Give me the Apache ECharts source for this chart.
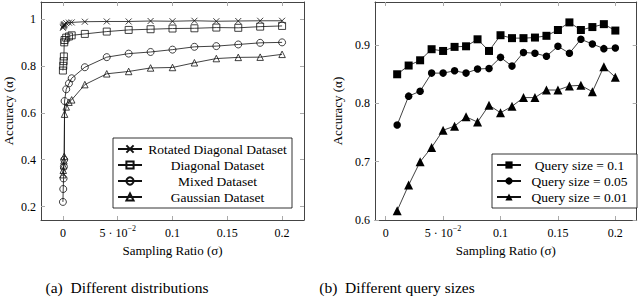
<!DOCTYPE html>
<html>
<head>
<meta charset="utf-8">
<script src="https://cdn.jsdelivr.net/npm/echarts@6/dist/echarts.min.js"></script>
<style>html,body{margin:0;padding:0;background:#fff}#c{width:640px;height:298px}</style>
</head>
<body>
<div id="c"></div>
<script>
// ---- Data: (a) Different distributions ----
const leftX = [0, 0.0003, 0.0006, 0.0009, 0.0012, 0.0015, 0.003, 0.0055, 0.008, 0.02, 0.04, 0.06, 0.08, 0.1, 0.12, 0.14, 0.16, 0.18, 0.2];
const rotatedDiag = [0.962, 0.966, 0.970, 0.973, 0.975, 0.978, 0.982, 0.984, 0.985, 0.988, 0.989, 0.989, 0.991, 0.990, 0.992, 0.990, 0.991, 0.992, 0.992];
const diagonal = [0.78, 0.80, 0.82, 0.84, 0.90, 0.91, 0.92, 0.925, 0.93, 0.936, 0.946, 0.953, 0.956, 0.959, 0.960, 0.963, 0.962, 0.967, 0.970];
const mixed = [0.22, 0.275, 0.32, 0.37, 0.40, 0.65, 0.70, 0.725, 0.747, 0.794, 0.837, 0.852, 0.859, 0.869, 0.881, 0.884, 0.891, 0.898, 0.900];
const gaussian = [0.336, 0.355, 0.374, 0.395, 0.414, 0.594, 0.625, 0.645, 0.655, 0.72, 0.766, 0.776, 0.791, 0.793, 0.813, 0.831, 0.836, 0.837, 0.849];
const leftNames = ['Rotated Diagonal Dataset', 'Diagonal Dataset', 'Mixed Dataset', 'Gaussian Dataset'];

// ---- Data: (b) Different query sizes ----
const rightX = [0.01, 0.02, 0.03, 0.04, 0.05, 0.06, 0.07, 0.08, 0.09, 0.10, 0.11, 0.12, 0.13, 0.14, 0.15, 0.16, 0.17, 0.18, 0.19, 0.20];
const query01 = [0.850, 0.865, 0.874, 0.893, 0.890, 0.897, 0.898, 0.910, 0.890, 0.917, 0.912, 0.912, 0.913, 0.916, 0.926, 0.939, 0.926, 0.931, 0.936, 0.925];
const query005 = [0.763, 0.8125, 0.821, 0.852, 0.852, 0.856, 0.852, 0.859, 0.860, 0.879, 0.864, 0.8875, 0.886, 0.881, 0.898, 0.886, 0.910, 0.902, 0.894, 0.895];
const query001 = [0.616, 0.660, 0.700, 0.7245, 0.754, 0.761, 0.777, 0.768, 0.797, 0.784, 0.795, 0.810, 0.810, 0.823, 0.823, 0.830, 0.831, 0.820, 0.863, 0.845];
const rightNames = ['Query size = 0.1', 'Query size = 0.05', 'Query size = 0.01'];

// ---- Tick labels ----
const xTicks = [0, 0.05, 0.1, 0.15, 0.2];
const leftYTicks = [0.2, 0.4, 0.6, 0.8, 1];
const rightYTicks = [0.6, 0.7, 0.8, 0.9];
const xTitle = 'Sampling Ratio (σ)';
const yTitle = 'Accuracy (α)';
const captions = ['(a)  Different distributions', '(b)  Different query sizes'];

const FONT = 'Liberation Serif';
const TICKC = '#aaa';
const FRAMEC = '#444';

function zip(xs, ys) { return xs.map((x, i) => [x, ys[i]]); }

function xLabelFmt(v) {
  if (Math.abs(v - 0.05) < 1e-9) return '{b|5 · 10}{s|−2}';
  return '{b|' + String(v) + '}';
}
const xRich = {
  b: { fontFamily: FONT, fontSize: 12, color: '#000', lineHeight: 15, verticalAlign: 'bottom' },
  s: { fontFamily: FONT, fontSize: 8, color: '#000', lineHeight: 9, verticalAlign: 'top' }
};

function makeAxes(gi, xmin, xmax, ymin, ymax, yTicks, nameGapY) {
  const xs = [
    { type: 'value', gridIndex: gi, position: 'bottom', min: xmin, max: xmax,
      axisLine: { onZero: false, lineStyle: { color: FRAMEC, width: 1 } },
      axisTick: { inside: true, length: 4, customValues: xTicks, lineStyle: { color: TICKC } },
      axisLabel: { customValues: xTicks, margin: 4, formatter: xLabelFmt, rich: xRich },
      splitLine: { show: false },
      name: xTitle, nameLocation: 'middle', nameGap: 21,
      nameTextStyle: { fontFamily: FONT, fontSize: 13, color: '#000' } },
    { type: 'value', gridIndex: gi, position: 'top', min: xmin, max: xmax,
      axisLine: { onZero: false, lineStyle: { color: FRAMEC, width: 1 } },
      axisTick: { inside: true, length: 4, customValues: xTicks, lineStyle: { color: TICKC } },
      axisLabel: { show: false }, splitLine: { show: false } }
  ];
  const ys = [
    { type: 'value', gridIndex: gi, position: 'left', min: ymin, max: ymax,
      axisLine: { show: true, onZero: false, lineStyle: { color: FRAMEC, width: 1 } },
      axisTick: { show: true, inside: true, length: 4, customValues: yTicks, lineStyle: { color: TICKC } },
      axisLabel: { customValues: yTicks, margin: 5, fontFamily: FONT, fontSize: 12, color: '#000',
        formatter: v => String(v) },
      splitLine: { show: false },
      name: yTitle, nameLocation: 'middle', nameGap: nameGapY,
      nameTextStyle: { fontFamily: FONT, fontSize: 13, color: '#000' } },
    { type: 'value', gridIndex: gi, position: 'right', min: ymin, max: ymax,
      axisLine: { show: true, onZero: false, lineStyle: { color: FRAMEC, width: 1 } },
      axisTick: { show: true, inside: true, length: 4, customValues: yTicks, lineStyle: { color: TICKC } },
      axisLabel: { show: false }, splitLine: { show: false } }
  ];
  return { xs, ys };
}

const A = makeAxes(0, -0.02, 0.22, 0.143, 1.072, leftYTicks, 26);
const B = makeAxes(1, -0.0093, 0.2186, 0.6, 0.974, rightYTicks, 31);

const CROSS = 'path://M0,0L10,10M10,0L0,10';
const LINEC = '#111';

function openSeries(name, data, symbol, size) {
  return {
    type: 'line', name, data, xAxisIndex: 0, yAxisIndex: 0,
    symbol, symbolSize: size, showSymbol: true,
    lineStyle: { color: LINEC, width: 0.8 },
    itemStyle: { color: 'rgba(0,0,0,0)', borderColor: '#111', borderWidth: 0.8 },
    emphasis: { disabled: true }, z: 3
  };
}
function filledSeries(name, data, symbol, size) {
  return {
    type: 'line', name, data, xAxisIndex: 2, yAxisIndex: 2,
    symbol, symbolSize: size, showSymbol: true,
    lineStyle: { color: LINEC, width: 0.8 },
    itemStyle: { color: '#000', borderColor: '#000', borderWidth: 0 },
    emphasis: { disabled: true }, z: 3
  };
}

const series = [
  openSeries(leftNames[0], zip(leftX, rotatedDiag), CROSS, 6),
  openSeries(leftNames[1], zip(leftX, diagonal), 'rect', 7),
  openSeries(leftNames[2], zip(leftX, mixed), 'circle', 7),
  openSeries(leftNames[3], zip(leftX, gaussian), 'triangle', 6.5),
  filledSeries(rightNames[0], zip(rightX, query01), 'rect', 8),
  filledSeries(rightNames[1], zip(rightX, query005), 'circle', 7.5),
  filledSeries(rightNames[2], zip(rightX, query001), 'triangle', 9)
];

function legend(names, left, top, textW) {
  return {
    data: names, orient: 'vertical', left, top,
    itemWidth: 24, itemHeight: 9, itemGap: 2,
    padding: [4, 4, 4, 4],
    borderColor: '#000', borderWidth: 0.8, backgroundColor: '#fff',
    selectedMode: false, inactiveColor: '#000',
    formatter: n => '{t|' + n + '}',
    textStyle: { fontFamily: FONT, fontSize: 13.5, color: '#000',
      rich: { t: { fontFamily: FONT, fontSize: 13.5, color: '#000', width: textW, align: 'center', lineHeight: 13 } } }
  };
}

const chart = echarts.init(document.getElementById('c'), null, { renderer: 'svg', width: 640, height: 298 });
chart.setOption({
  animation: false,
  backgroundColor: '#fff',
  grid: [
    { left: 41, top: 2, width: 263, height: 218, containLabel: false },
    { left: 375, top: 2, width: 261.7, height: 218, containLabel: false }
  ],
  xAxis: A.xs.concat(B.xs),
  yAxis: A.ys.concat(B.ys),
  legend: [
    legend(leftNames, 113, 138, 141),
    legend(rightNames, 492, 154, 107)
  ],
  series,
  graphic: [
    { type: 'text', x: 127, y: 287, style: { text: captions[0], fontFamily: FONT, fontSize: 15.5, fill: '#000', align: 'center', verticalAlign: 'middle' } },
    { type: 'text', x: 397, y: 287, style: { text: captions[1], fontFamily: FONT, fontSize: 15.5, fill: '#000', align: 'center', verticalAlign: 'middle' } }
  ]
});
</script>
</body>
</html>
